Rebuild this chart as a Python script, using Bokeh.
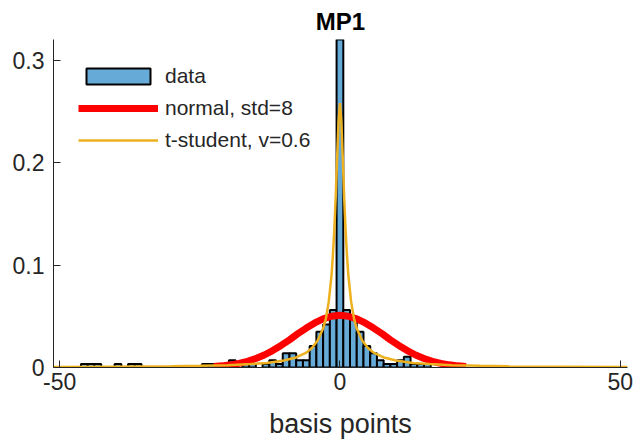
from bokeh.plotting import figure
from bokeh.models import Range1d, Legend, LegendItem, FixedTicker
from bokeh.embed import file_html
from bokeh.resources import INLINE

# ---- data ----
bin_width = 1.2
bin_centers = [-45.6, -44.4, -43.2, -39.6, -37.2, -36.0, -24.0, -22.8, -20.4, -19.2,
               -16.8, -15.6, -13.2, -12.0, -10.8, -9.6, -8.4, -7.2, -6.0, -4.8,
               -3.6, -2.4, -1.2, 0.0, 1.2, 2.4, 3.6, 4.8, 6.0, 7.2,
               8.4, 9.6, 10.8, 12.0, 13.2, 14.4, 15.6]
density = [0.0035, 0.0035, 0.0035, 0.0035, 0.0035, 0.0035, 0.0035, 0.0035, 0.0035, 0.007,
           0.0035, 0.0035, 0.0035, 0.007, 0.0035, 0.014, 0.014, 0.007, 0.007, 0.021,
           0.035, 0.042, 0.056, 0.32, 0.056, 0.049, 0.035, 0.021, 0.014, 0.007,
           0.0035, 0.0035, 0.007, 0.0105, 0.0035, 0.0035, 0.0035]

normal_x = [-22.5, -21, -19.5, -18, -16.5, -15, -13.5, -12, -10.5, -9, -7.5, -6, -4.5, -3, -1.5,
            0, 1.5, 3, 4.5, 6, 7.5, 9, 10.5, 12, 13.5, 15, 16.5, 18, 19.5, 21, 22.5]
normal_y = [0.001, 0.0016, 0.0026, 0.004, 0.006, 0.0088, 0.0122, 0.0165, 0.0215, 0.027, 0.033,
            0.0385, 0.0435, 0.0475, 0.050, 0.051, 0.050, 0.0475, 0.0435, 0.0385, 0.033, 0.027,
            0.0215, 0.0165, 0.0122, 0.0088, 0.006, 0.004, 0.0026, 0.0016, 0.001]

t_x = [-51.3, -40, -30, -25, -20, -16, -13, -10, -8, -6, -5, -4, -3, -2.5, -2, -1.5, -1.25, -1,
       -0.75, -0.5, -0.25, 0, 0.25, 0.5, 0.75, 1, 1.25, 1.5, 2, 2.5, 3, 4, 5, 6, 8, 10, 13,
       16, 20, 25, 30, 40, 51.3]
t_y = [0.0005, 0.0008, 0.0012, 0.0016, 0.0023, 0.0033, 0.0045, 0.0068, 0.0095, 0.0145, 0.019,
       0.026, 0.038, 0.048, 0.064, 0.09, 0.11, 0.135, 0.167, 0.205, 0.24, 0.258, 0.24, 0.205,
       0.167, 0.135, 0.11, 0.09, 0.064, 0.048, 0.038, 0.026, 0.019, 0.0145, 0.0095, 0.0068,
       0.0045, 0.0033, 0.0023, 0.0016, 0.0012, 0.0008, 0.0005]

x_ticks = [-50, 0, 50]
x_tick_labels = ["-50", "0", "50"]
y_ticks = [0, 0.1, 0.2, 0.3]
y_tick_labels = ["0", "0.1", "0.2", "0.3"]

FONT = "Liberation Sans"
TXT = "#262626"

p = figure(width=635, height=441, output_backend="svg", toolbar_location=None,
           x_range=Range1d(-51.1, 51.3), y_range=Range1d(0, 0.32),
           min_border_left=53, min_border_right=8, min_border_top=38, min_border_bottom=74)

p.title.text = "MP1"
p.title.align = "center"
p.title.text_font = FONT
p.title.text_font_size = "24px"
p.title.text_font_style = "bold"
p.title.text_color = "#000000"

p.xgrid.visible = False
p.ygrid.visible = False
p.outline_line_color = None
p.background_fill_color = "white"
p.border_fill_color = "white"

hist = p.vbar(x=bin_centers, top=density, width=bin_width, bottom=0,
              fill_color="#66AAD7", line_color="black", line_width=2)
norm = p.line(normal_x, normal_y, line_color="#FF0000", line_width=7)
tst = p.line(t_x, t_y, line_color="#EDB120", line_width=2.5)

for ax in (p.xaxis[0], p.yaxis[0]):
    ax.major_tick_in = 7
    ax.major_tick_out = 0
    ax.minor_tick_line_color = None
    ax.axis_line_color = TXT
    ax.major_tick_line_color = TXT
    ax.major_label_text_font = FONT
    ax.major_label_text_font_size = "23px"
    ax.major_label_text_color = TXT

p.xaxis.ticker = FixedTicker(ticks=x_ticks)
p.xaxis.major_label_overrides = {t: l for t, l in zip(x_ticks, x_tick_labels)}
p.xaxis.major_label_standoff = 5
p.xaxis.axis_label = "basis points"
p.xaxis.axis_label_text_font = FONT
p.xaxis.axis_label_text_font_size = "27px"
p.xaxis.axis_label_text_font_style = "normal"
p.xaxis.axis_label_text_color = TXT
p.xaxis.axis_label_standoff = 16

p.yaxis.ticker = FixedTicker(ticks=y_ticks)
p.yaxis.major_label_overrides = {t: l for t, l in zip(y_ticks, y_tick_labels)}
p.yaxis.major_label_standoff = 9

legend = Legend(items=[LegendItem(label="data", renderers=[hist]),
                       LegendItem(label="normal, std=8", renderers=[norm]),
                       LegendItem(label="t-student, v=0.6", renderers=[tst])],
                location="top_left", border_line_color=None, background_fill_alpha=0,
                glyph_width=80, glyph_height=20, label_text_font=FONT,
                label_text_font_size="21px", label_text_color=TXT,
                label_standoff=7, spacing=8, padding=0, margin=25)
p.add_layout(legend)

open("out.html", "w").write(file_html(p, INLINE))
